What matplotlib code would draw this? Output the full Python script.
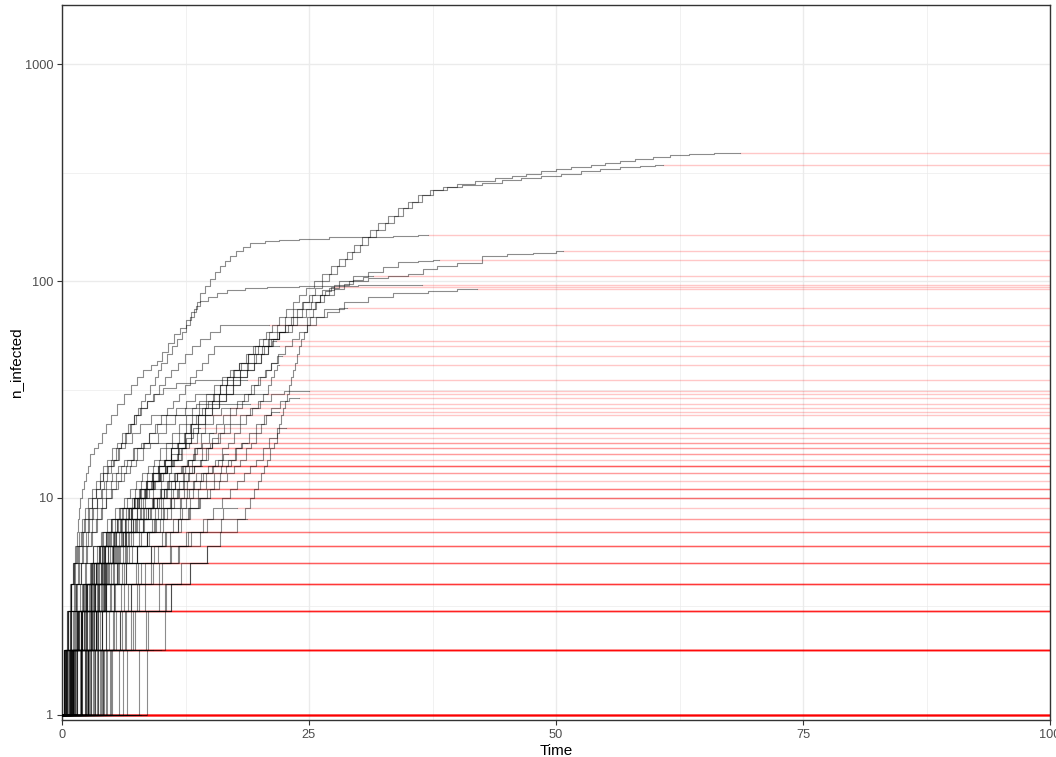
import matplotlib
matplotlib.use("Agg")
import matplotlib.pyplot as plt
from matplotlib.ticker import FixedLocator, NullFormatter

plt.rcParams['font.family'] = ['Liberation Sans', 'DejaVu Sans']

# ---------------------------------------------------------------------------
# Outbreak simulations: cumulative infected counts over time.
# Larger outbreaks are stored as (time, count) knots, each run ending at
# `big_end`, after which its final size is carried forward to t = 100.
# ---------------------------------------------------------------------------

big_times = [
    [0.9,1.6,2.4,3.0,3.8,4.5,5.1,5.9,7.3,7.9,8.6,9.2,9.8,10.4,11.0,11.6,12.3,13.0,13.6,14.2,14.8,15.4,16.0,16.7,17.3,17.9,18.6,19.3,19.9,20.6,21.3,22.0,22.7,23.4,24.0,24.7,25.5,26.3,27.2,28.0,28.8,29.6,30.4,31.2,32.0,33.0,34.0,35.0,36.0,37.2,38.6,40.0,41.8,43.8,45.5,47.0,48.5,50.0,51.5,53.5,55.0,56.5,58.0,59.8,61.5,63.5,66.0],
    [1.2,2.0,2.9,3.6,4.4,5.3,6.0,6.8,7.6,8.3,9.0,9.7,10.4,11.0,11.7,12.4,13.1,13.8,14.5,15.2,15.9,16.6,17.3,18.0,18.7,19.4,20.1,20.8,21.4,22.0,22.6,23.2,23.8,24.4,25.0,25.6,26.3,27.0,27.8,28.6,29.4,30.2,31.0,31.8,32.7,33.6,34.5,35.4,36.4,37.6,39.0,40.5,42.5,44.5,46.5,48.5,50.5,52.5,54.5,56.5,58.5,60.0],
    [0.4,0.8,1.2,1.6,2.0,2.4,2.7,3.1,3.5,3.9,4.3,4.6,5.0,5.3,5.7,6.0,6.4,6.9,7.3,7.7,8.0,8.4,8.9,9.4,9.7,10.0,10.6,11.1,11.6,12.1,12.6,13.0,13.4,13.7,14.0,14.5,15.0,15.5,16.0,16.5,17.0,17.6,18.3,19.0,20.5,22.0,24.0,27.0,30.0,33.5,36.0],
    [0.3,0.6,0.9,1.1,1.3,1.5,1.6,1.7,1.8,2.0,2.2,2.4,2.6,2.8,3.2,3.6,4.0,4.5,5.0,5.6,6.3,7.0,7.6,8.2,9.0,9.6,10.1,10.7,11.3,11.9,12.5,13.1,13.6,14.0,14.8,15.7,16.7,18.5,20.7,24.0,30.0],
    [0.8,1.5,2.1,2.9,3.5,4.2,5.0,5.8,6.6,7.4,8.0,8.6,9.2,9.8,10.5,11.1,11.8,12.5,13.2,13.9,14.6,15.3,16.0,16.7,17.4,18.1,18.8,19.5,20.3,21.0,21.8,22.6,23.4,24.3,25.3,26.3,27.5,29.0,31.0,33.0,35.0,36.5,38.0,40.0,42.5,45.0,47.7,50.0],
    [1.0,1.7,2.5,3.2,4.0,4.8,5.6,6.5,7.4,8.0,8.6,9.2,9.8,10.4,11.0,11.7,12.4,13.1,13.8,14.5,15.2,15.9,16.6,17.3,18.0,18.7,19.4,20.2,21.0,21.8,22.6,23.4,24.3,25.2,26.1,27.0,28.0,29.5,31.0,32.5,34.0,36.0,37.5],
    [0.7,1.4,2.2,3.0,3.7,4.5,5.4,6.2,7.1,7.8,8.5,9.1,9.7,10.3,11.0,11.7,12.4,13.1,13.8,14.5,15.2,15.9,16.6,17.3,18.0,18.8,19.6,20.4,21.2,22.0,22.9,23.8,24.7,25.6,26.5,27.5,28.5,29.5,30.5,31.0],
    [8.6,10.4,11.0,13.0,14.7,16.0,17.7,18.5,19.0,19.4,19.8,20.1,20.4,20.7,21.1,21.5,21.8,22.0,22.2,22.4,22.6,22.8,23.0,23.2,23.4,23.6,23.8,24.0,24.2,24.5,24.8,25.1,25.4,25.7,26.1,26.6,27.2],
    [0.5,1.1,1.8,2.4,3.1,3.9,4.6,5.4,6.3,6.9,7.5,8.1,8.7,9.3,9.9,10.5,11.1,11.8,12.5,13.2,13.9,14.6,15.4,16.2,17.0,17.9,18.8,19.8,20.8,22.0,23.3,24.8,26.5,28.5,31.0,33.5,37.0,40.0],
    [1.5,2.4,3.3,4.2,5.2,6.2,7.2,8.2,9.3,10.0,10.7,11.4,12.1,12.8,13.5,14.2,14.9,15.6,16.3,17.0,17.7,18.4,19.1,19.8,20.5,21.2,21.9,22.6,23.3,24.0,24.8,25.7,26.8,28.0],
    [0.3,0.6,0.9,1.2,1.5,1.9,2.2,2.6,3.0,3.4,3.8,4.2,4.6,5.0,5.5,6.0,6.5,7.0,7.5,8.0,8.6,9.2,9.8,10.4,11.0,11.7,12.4,13.2,14.0,15.0,16.0],
    [1.1,1.9,2.7,3.5,4.3,5.2,6.1,7.0,8.0,8.6,9.2,9.8,10.4,11.0,11.7,12.4,13.1,13.8,14.5,15.2,15.9,16.6,17.3,18.0,18.7,19.4,20.1,20.8,21.3],
    [0.4,0.9,1.4,1.9,2.4,2.9,3.4,3.9,4.5,5.0,5.5,6.0,6.5,7.0,7.6,8.2,8.8,9.4,10.0,10.6,11.2,11.8,12.4,13.0,13.6,14.2,14.8,15.4],
    [2.6,4.0,5.3,6.5,7.6,8.6,9.4,10.2,11.0,11.6,12.2,12.8,13.4,14.0,14.6,15.2,15.8,16.4,17.0,17.6,18.2,18.8,19.4,20.0,20.6,21.2,21.8],
    [1.9,3.4,4.9,6.3,7.6,8.8,9.9,11.0,12.0,12.7,13.4,14.1,14.8,15.5,16.2,16.8,17.4,18.0,18.6,19.2,19.8,20.3,20.8,21.2,21.5,21.8],
    [0.2,0.5,0.8,1.1,1.4,1.7,2.0,2.3,2.6,3.0,3.4,3.8,4.2,4.6,5.1,5.6,6.1,6.7,7.3,7.9,8.6,9.3,10.2,11.5,13.5],
    [1.0,1.9,2.8,3.7,4.7,5.8,7.0,8.3,9.2,10.0,10.8,11.6,12.4,13.2,14.2,15.0,16.0,17.0,18.0,19.0,20.0,21.2,22.5],
    [0.5,0.9,1.3,1.7,2.1,2.6,3.0,3.5,4.0,4.5,5.0,5.5,6.0,6.6,7.3,8.0,8.8,9.6,10.5,11.5,12.5,13.5],
    [3.3,4.8,6.3,7.7,9.0,10.1,11.2,12.1,13.0,13.8,14.6,15.4,16.1,16.8,17.5,18.2,18.9,19.6,20.4,21.2,22.1,23.0],
    [0.4,0.9,1.4,1.9,2.5,3.0,3.5,4.0,4.5,5.1,5.7,6.3,6.9,7.5,8.2,8.9,9.7,10.5,11.4,12.4,13.6],
    [0.9,1.6,2.4,3.2,4.1,5.0,6.0,7.1,7.8,8.5,9.2,9.9,10.6,11.3,12.1,12.9,13.7,14.5,15.3,16.1],
    [2.8,4.5,6.0,7.5,9.0,10.4,11.7,12.9,14.0,15.0,15.9,16.7,17.4,18.0,18.6,19.1,19.6,20.1,20.6,21.2],
    [0.3,0.6,0.9,1.2,1.6,2.0,2.3,2.7,3.0,3.4,3.8,4.2,4.7,5.2,5.8,6.4,7.1,7.9,9.0],
    [0.8,1.5,2.3,3.1,4.0,4.9,5.9,7.0,7.7,8.4,9.1,9.8,10.5,11.2,12.0,12.6,13.3],
    [4.5,6.5,8.4,10.1,11.7,13.1,14.3,15.3,16.2,17.0,17.7,18.4,19.0,19.6,20.3,21.0,21.8],
    [1.1,2.0,2.9,3.9,4.9,6.0,7.2,8.5,9.2,9.9,10.6,11.3,12.0,12.7,13.4,14.1],
    [1.3,2.9,3.7,4.5,5.4,6.4,7.5,8.7,9.6,10.5,11.4,12.3,13.2,14.1,14.8,15.2],
    [3.9,5.5,7.0,8.4,9.7,10.9,12.0,13.0,13.9,14.7,15.4,16.0,16.6,17.1,17.6,18.1],
    [0.2,0.5,0.9,1.3,1.7,2.1,2.6,3.0,3.5,4.0,4.5,5.1,5.7,6.3,7.2,8.3],
]

big_counts = [
    [2,3,4,5,6,7,8,9,10,11,12,13,14,15,17,18,20,22,24,26,28,30,33,36,39,42,46,50,54,58,63,68,74,80,86,93,100,108,117,126,136,147,159,172,186,200,216,232,248,263,272,281,290,298,305,312,320,327,335,343,350,357,364,372,379,385,390],
    [2,3,4,5,6,7,8,9,10,11,12,13,14,15,17,18,20,22,24,26,28,30,33,36,39,42,46,50,54,58,63,68,74,80,86,93,100,108,117,126,136,147,159,172,186,200,216,232,248,263,270,277,284,291,298,305,312,320,327,335,340,343],
    [2,3,4,5,6,7,8,9,10,11,12,13,14,15,17,18,20,22,24,26,28,30,33,36,39,42,46,50,54,58,63,68,74,80,88,95,102,110,117,124,130,137,144,150,153,155,157,159,160,162,163],
    [2,3,4,5,6,7,8,9,10,11,12,13,14,16,17,18,20,22,24,27,30,33,36,39,41,43,47,52,57,61,66,72,77,81,84,88,91,93,94,95,96],
    [2,3,4,5,6,7,8,9,10,11,12,13,14,15,17,18,20,22,24,26,28,30,33,36,39,42,46,50,54,58,63,68,74,80,86,91,96,100,103,105,108,113,117,121,130,133,135,137],
    [2,3,4,5,6,7,8,9,10,11,12,13,14,15,17,18,20,22,24,26,28,30,33,36,39,42,46,50,54,58,63,68,74,80,86,93,100,105,110,116,122,124,125],
    [2,3,4,5,6,7,8,9,10,11,12,13,14,15,17,18,20,22,24,26,28,30,33,36,39,42,46,50,54,58,63,68,74,80,86,92,97,101,104,105],
    [2,3,4,5,6,7,8,9,10,11,12,13,14,15,17,18,20,22,24,26,28,30,33,36,39,42,46,50,54,58,63,68,74,80,86,90,94],
    [2,3,4,5,6,7,8,9,10,11,12,13,14,15,17,18,20,22,24,26,28,30,33,36,39,42,46,50,54,58,63,68,74,80,84,88,90,92],
    [2,3,4,5,6,7,8,9,10,11,12,13,14,15,17,18,20,22,24,26,28,30,33,36,39,42,46,50,54,58,63,68,72,75],
    [2,3,4,5,6,7,8,9,10,11,12,13,14,15,17,18,20,22,24,26,28,30,33,36,39,42,46,50,54,58,63],
    [2,3,4,5,6,7,8,9,10,11,12,13,14,15,17,18,20,22,24,26,28,30,33,36,39,42,46,50,53],
    [2,3,4,5,6,7,8,9,10,11,12,13,14,15,17,18,20,22,24,26,28,30,33,36,39,42,46,50],
    [2,3,4,5,6,7,8,9,10,11,12,13,14,15,17,18,20,22,24,26,28,30,33,36,39,42,45],
    [2,3,4,5,6,7,8,9,10,11,12,13,14,15,17,18,20,22,24,26,28,30,33,36,39,41],
    [2,3,4,5,6,7,8,9,10,11,12,13,14,15,17,18,20,22,24,26,28,30,32,34,35],
    [2,3,4,5,6,7,8,9,10,11,12,13,14,15,17,18,20,22,24,26,28,30,31],
    [2,3,4,5,6,7,8,9,10,11,12,13,14,15,17,18,20,22,24,26,28,30],
    [2,3,4,5,6,7,8,9,10,11,12,13,14,15,17,18,20,22,24,26,28,29],
    [2,3,4,5,6,7,8,9,10,11,12,13,14,15,17,18,20,22,24,26,27],
    [2,3,4,5,6,7,8,9,10,11,12,13,14,15,17,18,20,22,24,26],
    [2,3,4,5,6,7,8,9,10,11,12,13,14,15,17,18,20,22,24,25],
    [2,3,4,5,6,7,8,9,10,11,12,13,14,15,17,18,20,22,24],
    [2,3,4,5,6,7,8,9,10,11,12,13,14,15,17,19,21],
    [2,3,4,5,6,7,8,9,10,11,12,13,14,15,17,19,21],
    [2,3,4,5,6,7,8,9,10,11,12,13,14,15,17,20],
    [2,3,4,5,6,7,8,9,10,11,12,13,14,15,17,19],
    [2,3,4,5,6,7,8,9,10,11,12,13,14,15,17,18],
    [2,3,4,5,6,7,8,9,10,11,12,13,14,15,17,18],
]

big_end = [68.6, 60.8, 37.0, 36.4, 50.7, 38.2, 31.5, 27.5, 42.0, 28.8,
           21.0, 21.7, 22.0, 22.3, 22.0, 18.7, 25.0, 20.7, 24.0, 19.0,
           17.0, 22.0, 15.0, 14.0, 22.7, 15.3, 15.7, 18.7, 13.0]

# Smaller outbreaks: times at which one more case was added (count 1, 2, 3, ...).
unit_jumps = [
    [0.5,1.2,2.0,2.8,3.7,4.6,5.6,6.7,7.3,7.9,8.5,9.1,9.7,10.3,11.0,11.8],
    [1.4,2.3,3.3,4.3,5.3,6.4,7.6,8.9,9.6,10.3,11.0,11.6,12.2,12.8,13.3,13.7],
    [0.9,1.7,2.5,3.4,4.3,5.3,6.4,7.6,8.2,8.8,9.4,10.0,10.6,11.1,11.6],
    [2.0,3.2,4.4,5.7,7.1,8.6,10.2,11.9,12.6,13.3,14.0,14.6,15.2,15.8,16.3],
    [1.2,2.2,3.2,4.3,5.5,6.8,8.2,9.7,11.3,12.3,13.3,14.3,15.3,16.2],
    [0.6,1.3,2.1,2.9,3.8,4.7,5.7,6.8,7.6,8.4,9.3,10.2,11.0],
    [2.6,4.0,5.3,6.5,7.6,8.6,9.5,10.3,11.0,11.7,12.3,12.9,13.4],
    [1.5,2.5,3.6,4.7,5.8,7.0,8.2,9.0,9.8,10.6,11.4,12.2,12.9],
    [1.9,2.5,3.2,3.9,4.7,5.5,6.4,7.1,7.8,8.5,9.2,9.9,10.6],
    [0.8,1.6,2.5,3.4,4.4,5.4,6.5,7.6,8.4,9.2,10.0,10.8],
    [1.9,3.0,4.1,5.3,6.5,7.8,9.1,10.0,10.9,11.8,12.7,13.6],
    [2.6,3.4,4.3,5.2,6.2,7.2,8.3,9.4,10.2,11.0,11.8],
    [1.1,2.0,3.0,4.0,5.1,6.2,7.4,8.7,10.0,11.2],
    [2.3,2.9,3.6,4.4,5.2,6.1,7.0,8.0,9.1,10.3],
    [2.4,3.4,4.5,5.6,6.8,8.0,9.3,10.6,11.9,12.9],
    [0.7,1.5,2.4,3.4,4.4,5.5,6.7,7.9,9.2],
    [0.2,0.8,1.5,2.3,3.1,4.0,5.0,6.1,7.3],
    [3.8,5.3,6.7,8.0,9.3,10.5,11.7,12.8,13.8],
    [3.5,5.2,7.0,9.0,11.0,12.8,14.7,16.3],
    [0.9,1.9,2.9,4.0,5.2,6.5,7.8],
    [4.0,5.9,7.8,9.8,11.8,14.0,16.1],
    [2.0,2.8,3.7,4.5,5.6,6.5],
    [1.1,2.4,3.3,4.6,5.7,6.7],
    [4.1,5.9,7.6,9.2,10.9,12.5],
    [2.7,3.6,4.5,5.8,6.6],
    [1.3,2.0,3.1,4.4,5.9],
    [0.2,1.9,3.5,5.0,6.4],
    [5.1,7.4,10.4,12.0,14.7],
    [2.6,3.5,4.4,5.6],
    [1.0,2.2,3.9,4.8],
    [0.4,2.7,4.5,6.1],
    [4.3,8.7,11.0,13.0],
    [2.5,3.4,4.3],
    [3.2,4.0,5.4],
    [0.8,2.9,4.0],
    [1.9,3.1,5.0],
    [2.9,6.4,10.5],
    [5.0,7.2,9.8],
    [2.4,3.2],
    [1.9,3.8],
    [1.5,3.0],
    [3.1,4.5],
    [3.6,6.1],
    [1.1,3.6],
    [6.2,8.5],
    [4.6,7.0],
    [2.3], [3.6], [1.0], [4.2], [0.2], [2.9], [5.8], [3.3], [6.6], [1.8], [4.9], [7.8],
]

unit_end = [12.6, 14.0, 12.0, 16.8, 17.0,
            12.3, 14.2, 13.5, 11.3, 11.5, 14.5, 12.5,
            12.2, 11.4, 13.8, 10.8, 9.0, 15.0, 17.7, 10.3, 18.7,
            9.0, 10.4, 14.0, 9.0, 8.9, 10.1, 16.0,
            8.0, 8.2, 9.5, 14.8,
            6.2, 7.1, 7.4, 8.3, 11.6, 12.0,
            4.9, 5.6, 5.3, 6.0, 7.8, 7.9, 11.0, 10.2,
            3.9, 5.1, 2.2, 6.3, 4.0, 4.6, 8.0, 6.2, 9.2, 8.4, 7.0, 10.0]

# Outbreaks that never spread beyond the index case: time the case recovered.
single_end = [0.3, 0.6, 0.9, 1.3, 1.6, 2.0, 2.3, 2.6, 2.9, 3.2, 3.5,
              3.8, 4.1, 4.4, 4.8, 5.2, 5.7, 6.2, 6.8, 7.4, 8.0, 8.5]

x_ticks = [0, 25, 50, 75, 100]
x_minor = [12.5, 37.5, 62.5, 87.5]
y_ticks = [1, 10, 100, 1000]
y_labels = ["1", "10", "100", "1000"]
y_minor = [10 ** 0.5, 10 ** 1.5, 10 ** 2.5]
t_max = 100

# ---------------------------------------------------------------------------
# Assemble each run as a step path starting from one case at t = 0.
# ---------------------------------------------------------------------------
runs = []
for times, counts, end in zip(big_times, big_counts, big_end):
    runs.append(([0.0] + times + [end], [1] + counts + [counts[-1]]))
for jumps, end in zip(unit_jumps, unit_end):
    counts = list(range(1, len(jumps) + 2))
    runs.append(([0.0] + jumps + [end], counts + [counts[-1]]))
for end in single_end:
    runs.append(([0.0, end], [1, 1]))

fig = plt.figure(figsize=(10.56, 7.57), dpi=100)
ax = fig.add_axes([62 / 1056, 1 - 720 / 757, 988 / 1056, 715 / 757])

ax.set_yscale("log")
ax.set_xlim(0, t_max)
ax.set_ylim(0.948, 1871)

# grid (drawn under the data)
grid_col = "#EBEBEB"
for xv in x_minor:
    ax.axvline(xv, color=grid_col, lw=0.5, zorder=0)
for yv in y_minor:
    ax.axhline(yv, color=grid_col, lw=0.5, zorder=0)
for xv in x_ticks:
    ax.axvline(xv, color=grid_col, lw=1.0, zorder=0)
for yv in y_ticks:
    ax.axhline(yv, color=grid_col, lw=1.0, zorder=0)

# final sizes carried forward (under the trajectories)
for xs, ys in runs:
    ax.hlines(ys[-1], xs[-1], t_max, color="red", alpha=0.22, lw=1.0, zorder=2)

for xs, ys in runs:
    ax.step(xs, ys, where="post", color="black", alpha=0.45, lw=0.8, zorder=3)

ax.xaxis.set_major_locator(FixedLocator(x_ticks))
ax.set_xticklabels([str(v) for v in x_ticks])
ax.yaxis.set_major_locator(FixedLocator(y_ticks))
ax.yaxis.set_minor_locator(FixedLocator([]))
ax.yaxis.set_minor_formatter(NullFormatter())
ax.set_yticklabels(y_labels)

ax.tick_params(axis="both", which="major", length=3.8, width=0.8, color="#333333",
               labelcolor="#4D4D4D", labelsize=9.2, pad=2.5)
for side in ax.spines.values():
    side.set_color("#333333")
    side.set_linewidth(1.0)

ax.set_xlabel("Time", fontsize=11, color="black", labelpad=2)
ax.set_ylabel("n_infected", fontsize=11, color="black", labelpad=1)

fig.savefig("out.png", dpi=100)
